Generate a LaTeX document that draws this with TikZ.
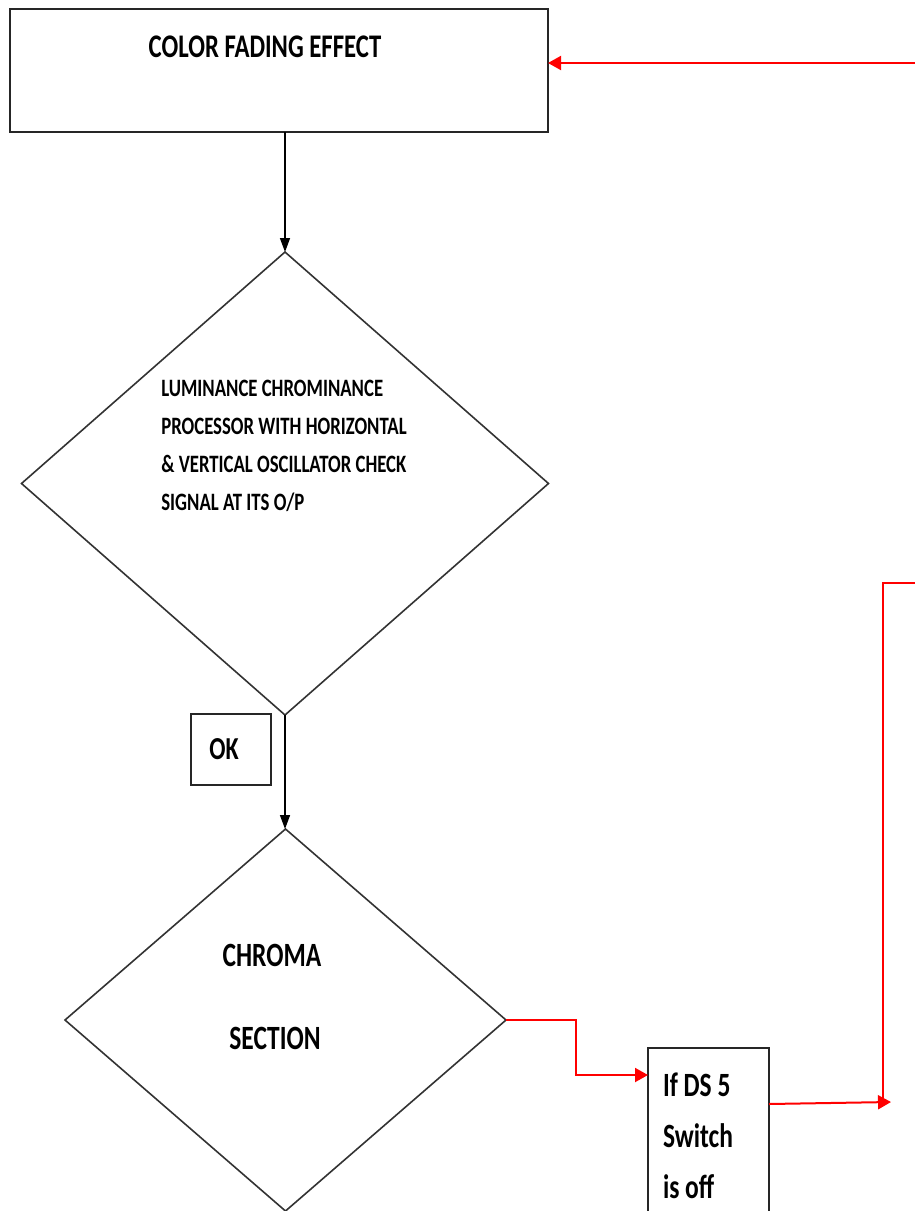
\documentclass[tikz,border=0pt]{standalone}
\usepackage{fontspec}
\setmainfont{Carlito}[FakeStretch=0.75]
\usetikzlibrary{arrows.meta,shapes.geometric}
\begin{document}
\begin{tikzpicture}[x=1pt,y=-1pt,
  every node/.style={inner sep=0pt,outer sep=0pt},
  boxshape/.style={draw=black!85,line width=1.8pt,rectangle},
  decision/.style={draw=black!80,line width=1.6pt,diamond},
  flowtext/.style={font=\bfseries, text=black},
  flow/.style={draw=black,line width=1.5pt,-{Triangle[length=14pt,width=10pt]}},
  redflow/.style={draw=red,line width=2pt,-{Triangle[length=13pt,width=14pt]}},
  redline/.style={draw=red,line width=2pt}]
\useasboundingbox (0,0) rectangle (915,1211);
\clip (0,0) rectangle (915,1211);

% boxes and decisions
\node[boxshape,minimum width=538pt,minimum height=123pt] (fade) at (279,70.5) {};
\node[flowtext,font=\bfseries\fontsize{33}{40}\selectfont] (fadetxt) at (265,47) {COLOR FADING EFFECT};

\node[decision,minimum width=527pt,minimum height=463pt] (luma) at (285,483.5) {};
\node[flowtext,align=left,font=\bfseries\fontsize{25}{38}\selectfont] (lumatxt) at (284,446)
  { LUMINANCE CHROMINANCE\\PROCESSOR WITH HORIZONTAL\\\& VERTICAL OSCILLATOR CHECK\\SIGNAL AT ITS O/P};

\node[boxshape,minimum width=80pt,minimum height=71pt] (ok) at (231,749.5) {};
\node[flowtext,font=\bfseries\fontsize{32}{38}\selectfont] (oktxt) at (224,749) {OK};

\node[decision,minimum width=441pt,minimum height=382pt] (chroma) at (285.5,1020) {};
\node[flowtext,font=\bfseries\fontsize{34}{40}\selectfont] (chromatxt) at (272,955) {CHROMA};
\node[flowtext,font=\bfseries\fontsize{34}{40}\selectfont] (sectiontxt) at (275,1038) {SECTION};

\node[boxshape,minimum width=121pt,minimum height=212pt] (ds) at (708.5,1154) {};
\node[flowtext,align=left,font=\bfseries\fontsize{34}{51}\selectfont] (dstxt) at (698,1136)
  {If DS 5\\Switch\\is off};

% coordinates for the open ends
\coordinate (topin) at (916,63);
\coordinate (sidein) at (916,583);
\coordinate (join) at (883,1102);
\coordinate (joinend) at (891,1102);

% black connectors
\draw[flow] (fade.south -| luma.north) -- (luma.north);
\draw[flow] (luma.south) -- (luma.south |- chroma.north);

% red connectors
\draw[redflow] (topin) -- (topin -| fade.east);
\draw[redflow] (chroma.east) -- ++(70,0) |- ([yshift=-27pt]ds.north west);
\draw[redflow] ([yshift=-56pt]ds.north east) -- (joinend);
\draw[redline] (join) |- (sidein);
\end{tikzpicture}
\end{document}
